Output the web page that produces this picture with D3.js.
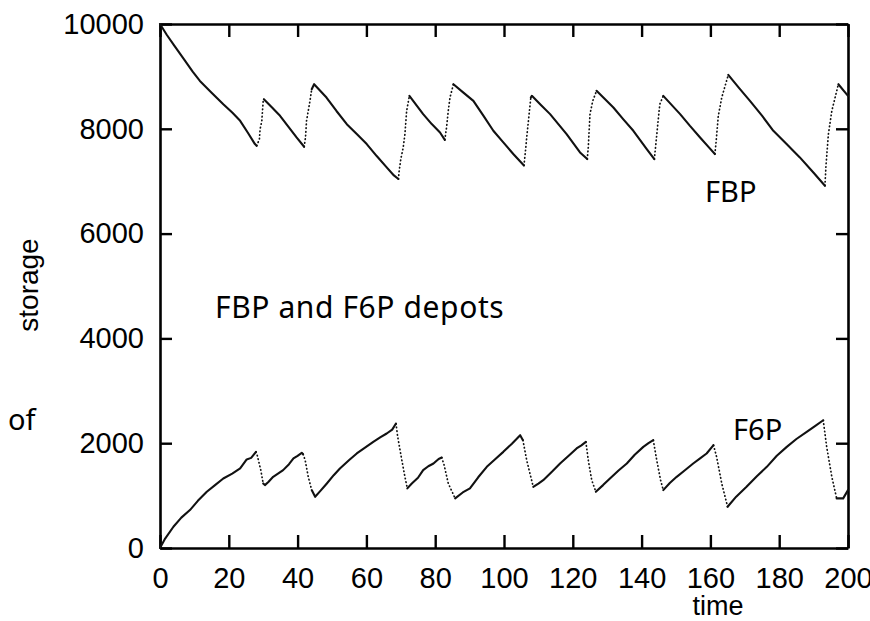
<!DOCTYPE html>
<html>
<head>
<meta charset="utf-8">
<script src="https://cdn.jsdelivr.net/npm/d3@7"></script>
<style>
    body { margin: 0; background: #fff; }
    .tickLabel { font-family: "Liberation Sans", Arial, sans-serif; font-size: 29px; fill: #000; }
    .axisTitle { font-family: "Liberation Sans", Arial, sans-serif; font-size: 27px; fill: #000; }
    .note { font-family: "Noto Sans", Lato, sans-serif; font-size: 29px; fill: #000; }
</style>
</head>
<body>
<div id="chart"></div>
<script>
// Chart values
const X_TICKS = [0, 20, 40, 60, 80, 100, 120, 140, 160, 180, 200];
const Y_TICKS = [0, 2000, 4000, 6000, 8000, 10000];

const X_LABEL = "time";
const Y_LABEL = "storage";

const fbpTime = [0, 2, 4, 7.3, 9.5, 11.6, 15, 18.4, 21, 23.3, 25.5, 27.6, 28.1, 28.9, 29.1, 29.6, 30.0, 30.2,
    32.5, 34.9, 37.3, 39.7, 41.9, 42.3, 42.6, 43.6, 44.1, 44.8,
    48.4, 51.3, 54.3, 57.2, 60.1, 63, 65.9, 68, 69.3, 69.5, 70.0, 70.7, 71.2, 71.7, 72.5,
    76.5, 79, 81.4, 82.8, 83.3, 83.8, 84.3, 85.3,
    88.2, 91.1, 94, 96.9, 99.8, 102.7, 105.8, 106.3, 106.6, 107.1, 107.8, 108.1,
    110.8, 113.4, 118.2, 122.1, 124.2, 124.5, 125.0, 125.8, 126.9,
    131.8, 134.7, 137.6, 141.5, 143.7, 144.0, 144.9, 145.3, 146.3,
    151.2, 154, 157.0, 159.5, 161.3, 161.6, 162.3, 163.3, 165.2,
    168.3, 171.5, 175, 178.3, 182, 186.0, 190, 193.3, 193.6, 194.3, 195.3, 197.2, 200];
const fbpValue = [10000, 9790, 9600, 9295, 9090, 8914, 8690, 8470, 8310, 8152, 7930, 7708, 7676, 7803, 7994, 8152, 8533, 8565,
    8410, 8248, 8040, 7835, 7657, 7835, 8152, 8533, 8756, 8851,
    8597, 8340, 8089, 7900, 7708, 7480, 7263, 7110, 7042, 7181, 7422, 7644, 7898, 8343, 8629,
    8280, 8090, 7930, 7790, 8025, 8343, 8597, 8851,
    8690, 8533, 8250, 7962, 7740, 7518, 7300, 7613, 7835, 8152, 8597, 8629,
    8450, 8280, 7898, 7549, 7422, 7644, 8280, 8533, 8724,
    8406, 8180, 7962, 7613, 7422, 7613, 8216, 8470, 8629,
    8280, 8060, 7835, 7650, 7518, 7708, 8248, 8597, 9029,
    8780, 8533, 8250, 7962, 7720, 7454, 7160, 6914, 7295, 7898, 8343, 8851, 8629];

const f6pTime = [0, 1.5, 3.9, 6.2, 8.7, 11, 13.6, 16, 18.4, 21, 23.3, 25.2, 26.5, 27.9,
    28.3, 29.3, 30.0, 30.5, 31.5, 32.9, 35.8, 37.5, 38.8, 40, 41.2,
    41.6, 42.2, 43.1, 44.1, 45.1, 46.5, 48.5, 50.5, 52.3, 55, 57.2, 59.5, 62.0, 64, 65.9, 67.5, 68.6,
    69.1, 70.3, 71.2, 71.9, 73.2, 75, 76.5, 78, 79.5, 81, 81.9,
    82.6, 83.8, 85.8, 88, 90.1, 92.5, 95.0, 97.5, 99.8, 102.3, 104.7,
    105.5, 106.6, 108.5, 110, 111.4, 114, 116.3, 118.8, 121.1, 122.5, 123.8,
    124.5, 125.5, 126.7, 128.8, 130.8, 133.3, 135.7, 138, 140.5, 142, 143.4,
    144.4, 145.5, 146.3, 148.2, 150.2, 152.5, 155.0, 157, 158.9, 160.9,
    161.8, 163.3, 165.0, 167.5, 170.5, 173.5, 176.4, 179.3, 182.2, 185, 188.0, 190.5, 192.8,
    193.8, 195.3, 196.7, 198.6, 200];
const f6pValue = [0, 180, 406, 580, 724, 900, 1073, 1200, 1327, 1420, 1518, 1690, 1720, 1835,
    1760, 1486, 1232, 1200, 1260, 1358, 1486, 1600, 1709, 1760, 1816,
    1790, 1676, 1358, 1105, 977, 1080, 1232, 1390, 1518, 1680, 1804, 1910, 2025, 2110, 2185, 2260, 2375,
    2121, 1676, 1358, 1137, 1232, 1340, 1486, 1560, 1613, 1700, 1727,
    1581, 1232, 947, 1060, 1137, 1350, 1549, 1700, 1835, 1990, 2152,
    2057, 1676, 1168, 1230, 1295, 1460, 1613, 1760, 1899, 1960, 2025,
    1676, 1295, 1073, 1200, 1327, 1480, 1613, 1780, 1930, 2000, 2057,
    1676, 1300, 1105, 1240, 1358, 1480, 1613, 1710, 1804, 1962,
    1740, 1232, 787, 980, 1168, 1370, 1549, 1760, 1930, 2080, 2216, 2330, 2438,
    1930, 1358, 947, 947, 1105];

// Annotation texts drawn over the plot
const notes = [
    { text: "FBP", x: 705, y: 202, size: 29 },
    { text: "F6P", x: 733, y: 440, size: 29 },
    { text: "FBP and F6P depots", x: 215, y: 318, size: 30 },
    { text: "of", x: 8, y: 430, size: 29 }
];

const WIDTH = 870;
const HEIGHT = 621;
const margin = { top: 24, right: 22, bottom: 73, left: 160 };
const plotW = WIDTH - margin.left - margin.right;
const plotH = HEIGHT - margin.top - margin.bottom;

// Fast change between samples shows up as loose dots in the original
const JUMP_SLOPE = 140;

const svg = d3.select("#chart")
    .append("svg")
    .attr("width", WIDTH)
    .attr("height", HEIGHT);

const g = svg.append("g")
    .attr("transform", `translate(${margin.left}, ${margin.top})`);

const x = d3.scaleLinear().domain([0, 200]).range([0, plotW]);
const y = d3.scaleLinear().domain([0, 10000]).range([plotH, 0]);

const plainFormat = d3.format("d");

function styleAxis(sel, showLabels) {
    sel.select(".domain").attr("stroke", "#000").attr("stroke-width", 2.6);
    sel.selectAll(".tick line").attr("stroke", "#000").attr("stroke-width", 2.4);
    sel.selectAll(".tick text").attr("class", "tickLabel")
        .style("display", showLabels ? null : "none");
}

// Bottom and left carry the labels, top and right just close the box
g.append("g")
    .attr("transform", `translate(0,${plotH})`)
    .call(d3.axisBottom(x).tickValues(X_TICKS).tickFormat(plainFormat)
        .tickSizeInner(-13).tickSizeOuter(0).tickPadding(19))
    .call(s => styleAxis(s, true));

g.append("g")
    .call(d3.axisTop(x).tickValues(X_TICKS).tickSizeInner(-13).tickSizeOuter(0))
    .call(s => styleAxis(s, false));

g.append("g")
    .call(d3.axisLeft(y).tickValues(Y_TICKS).tickFormat(plainFormat)
        .tickSizeInner(-12).tickSizeOuter(0).tickPadding(16))
    .call(s => styleAxis(s, true));

g.append("g")
    .attr("transform", `translate(${plotW},0)`)
    .call(d3.axisRight(y).tickValues(Y_TICKS).tickSizeInner(-12).tickSizeOuter(0))
    .call(s => styleAxis(s, false));

// Axis titles
svg.append("text")
    .attr("class", "axisTitle")
    .attr("text-anchor", "middle")
    .attr("x", 718)
    .attr("y", 615)
    .text(X_LABEL);

svg.append("text")
    .attr("class", "axisTitle")
    .attr("text-anchor", "middle")
    .style("font-size", "28px")
    .attr("transform", "translate(38, 285) rotate(-90)")
    .text(Y_LABEL);

// Split a series into runs of slow (solid) and fast (dotted) segments
function runs(times, values) {
    const out = [];
    for (let i = 0; i < times.length - 1; i++) {
        const slope = (values[i + 1] - values[i]) / (times[i + 1] - times[i]);
        const jump = Math.abs(slope) > JUMP_SLOPE;
        const last = out[out.length - 1];
        if (last && last.jump === jump) {
            last.pts.push([times[i + 1], values[i + 1]]);
        } else {
            out.push({ jump, pts: [[times[i], values[i]], [times[i + 1], values[i + 1]]] });
        }
    }
    return out;
}

const line = d3.line()
    .x(d => x(d[0]))
    .y(d => y(d[1]));

function plotSeries(times, values, identifier) {
    g.selectAll(`.${identifier}`)
        .data(runs(times, values))
        .enter()
        .append("path")
        .attr("class", identifier)
        .attr("d", d => line(d.pts))
        .attr("fill", "none")
        .attr("stroke", "#111")
        .attr("stroke-linejoin", "round")
        .attr("stroke-linecap", "round")
        .attr("stroke-width", d => d.jump ? 1.7 : 2.1)
        .attr("stroke-dasharray", d => d.jump ? "0.5,3.2" : null);
}

plotSeries(fbpTime, fbpValue, "fbpLine");
plotSeries(f6pTime, f6pValue, "f6pLine");

svg.selectAll(".note")
    .data(notes)
    .enter()
    .append("text")
    .attr("class", "note")
    .attr("x", d => d.x)
    .attr("y", d => d.y)
    .style("font-size", d => `${d.size}px`)
    .style("letter-spacing", d => d.size > 29 ? "0.6px" : null)
    .text(d => d.text);
</script>
</body>
</html>
